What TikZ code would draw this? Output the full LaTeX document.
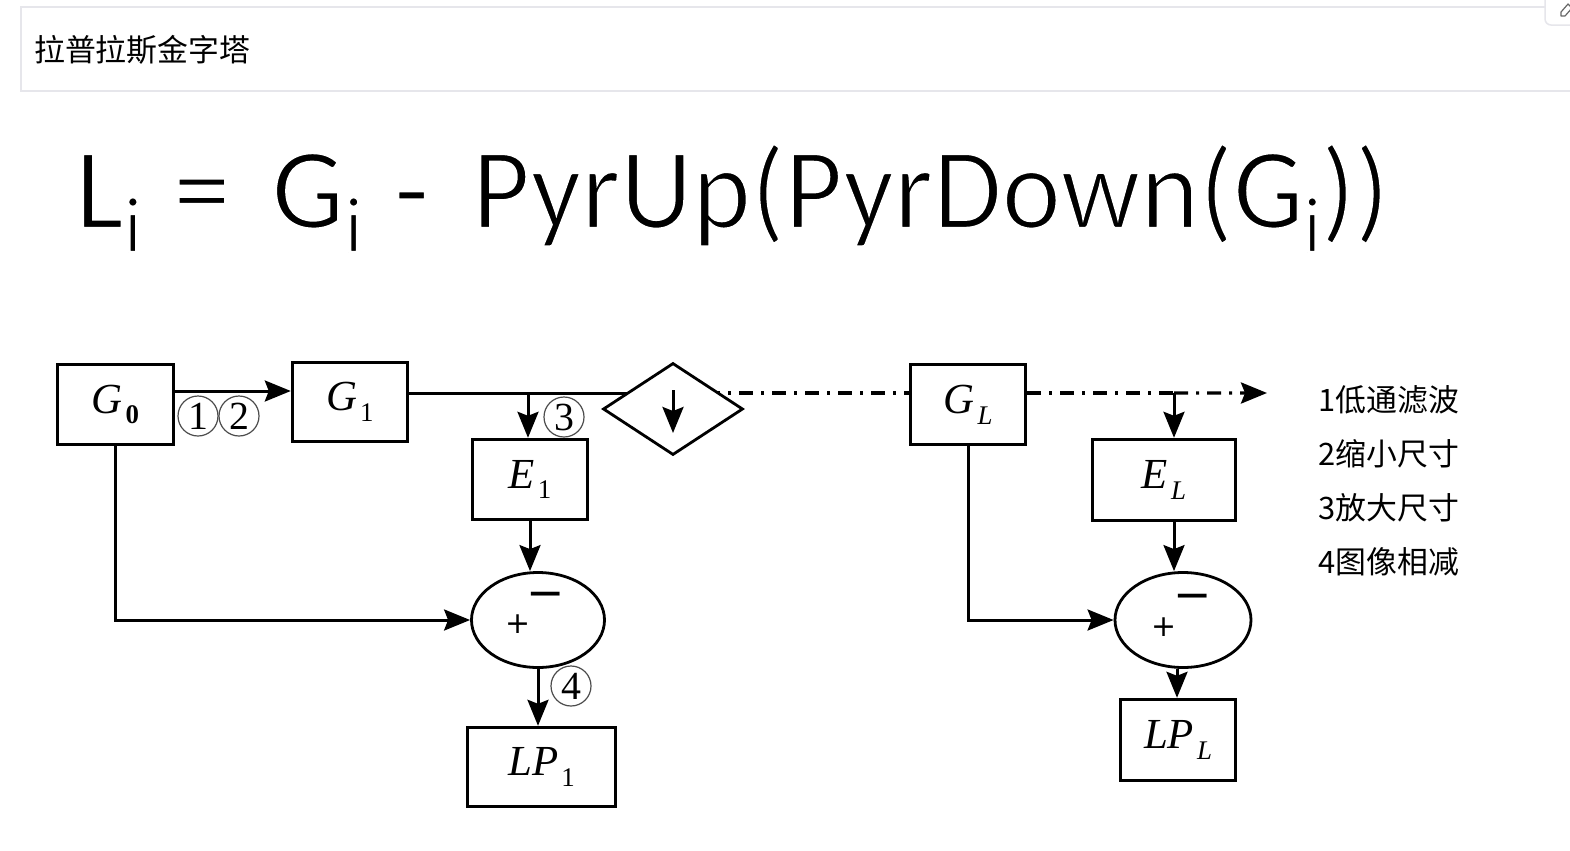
\documentclass[tikz,border=0pt]{standalone}
\usepackage{fontspec}
\setmainfont{Liberation Serif}
\newfontfamily\cjk{Noto Sans CJK SC}
\newfontfamily\formfont{Carlito}
\newfontfamily\dvfont{DejaVu Sans}
\usetikzlibrary{arrows.meta,shapes.geometric,calc}
\definecolor{hdr}{RGB}{230,230,235}
\newcommand{\lbl}[2]{\textit{#1}\kern3bp\raisebox{-0.25em}{\fontsize{27}{27}\selectfont #2}}
\newcommand{\fsub}{\raisebox{-24bp}{\fontsize{80}{80}\selectfont i}}
\newcommand{\thinstroke}[1]{\special{pdf:literal direct 2 Tr 1 1 1 RG 2.4 w}#1\special{pdf:literal direct 0 Tr 0 0 0 RG 1 w}}
\tikzset{
  blk/.style={draw, line width=3.4bp, inner sep=0pt, font=\fontsize{43}{46}\selectfont},
  tip/.style={-{Stealth[length=26bp,width=21bp,inset=4bp]}},
  arr/.style={line width=3bp, tip},
  ln/.style={line width=3bp},
  dashdot/.style={line width=3.4bp, dash pattern=on 14bp off 8bp on 3bp off 8bp},
  circnum/.style={circle, draw=black!70, line width=1.2bp, minimum size=40bp, inner sep=0pt, font=\fontsize{40}{40}\selectfont},
  sumnode/.style={ellipse, draw, line width=2.8bp, inner sep=0pt},
  legend/.style={anchor=west, font=\cjk\fontsize{31}{33}\selectfont, inner sep=0pt},
  pm/.style={font=\dvfont\fontsize{30}{30}\selectfont, inner sep=0pt},
  mn/.style={font=\dvfont\fontsize{46}{46}\selectfont, inner sep=0pt}
}
\begin{document}
\begin{tikzpicture}[x=1bp, y=-1bp]
\useasboundingbox (0,0) rectangle (1570,850);
\fill[white] (0,0) rectangle (1570,850);
% header
\draw[hdr, line width=1.5bp, fill=white] (21,7) rectangle (1585,91);
\draw[hdr, line width=1.5bp, fill=white, rounded corners=6bp] (1545,-12) rectangle (1585,25);
\draw[black!60, line width=1.2bp, line join=round] (1561,16) -- (1561,12) -- (1568,4) -- (1572,8) -- (1565,16) -- cycle;
\node[anchor=west, font=\cjk\fontsize{31}{33}\selectfont, inner sep=0pt] (title) at (34,50) {拉普拉斯金字塔};
% formula
\node[anchor=base west, inner sep=0pt, font=\formfont\fontsize{116}{120}\selectfont] (formula) at (75,228)
  {\thinstroke{L\fsub\hspace{31bp}=\hspace{41bp}G\fsub\hspace{31bp}-\hspace{43bp}\scalebox{0.968}[1]{PyrUp(PyrDown(G\fsub))}}};
% boxes
\node[blk, minimum width=116bp, minimum height=80bp] (G0) at (115.5,404.5) {\lbl{G}{\textbf{0}}};
\node[blk, minimum width=115bp, minimum height=79bp] (G1) at (350,402) {\lbl{G}{1}};
\node[blk, minimum width=115bp, minimum height=80bp] (E1) at (530,479.5) {\lbl{E}{1}};
\node[blk, minimum width=148bp, minimum height=79bp] (LP1) at (541.5,767) {\lbl{LP}{1}};
\node[blk, minimum width=115bp, minimum height=80bp] (GL) at (968,404.5) {\lbl{G}{\textit{L}}};
\node[blk, minimum width=143bp, minimum height=81bp] (EL) at (1164,480) {\lbl{E}{\textit{L}}};
\node[blk, minimum width=115bp, minimum height=81bp] (LPL) at (1178,740) {\lbl{LP}{\textit{L}}};
\node[sumnode, minimum width=133bp, minimum height=95bp] (S1) at (538,620) {};
\node[sumnode, minimum width=136bp, minimum height=95bp] (S2) at (1183,620) {};
\node[pm] (p1) at (518,624) {+};
\node[mn] (m1) at (546,600) {−};
\node[pm] (p2) at (1164,627) {+};
\node[mn] (m2) at (1193,602) {−};
% coordinates
\coordinate (dc) at (673,409);
\coordinate (t1) at ([yshift=9bp]G1.east);
\coordinate (b2) at ([xshift=10bp]EL.north);
\coordinate (endA) at (1267,393);
% connectors
\draw[arr] ([yshift=13.5bp]G0.east) -- ([yshift=13.5bp]G0.east -| G1.west);
\draw[ln] (t1) -- (t1 -| dc);
\draw[dashdot] (t1 -| dc) -- (t1 -| GL.west);
\draw[dashdot] (t1 -| GL.east) -- (t1 -| b2);
\draw[dashdot, tip] (t1 -| b2) -- (endA);
\draw[arr] ([xshift=-2bp]t1 -| E1.north) -- ([xshift=-2bp]E1.north);
\draw[arr] (E1.south) -- (E1.south |- S1.north);
\draw[arr] (G0.south) |- (S1.west);
\draw[arr] (S1.south) -- (S1.south |- LP1.north);
\draw[arr] (t1 -| b2) -- (b2);
\draw[arr] (b2 |- EL.south) -- (b2 |- S2.north);
\draw[arr] (GL.south) |- (S2.west);
\draw[arr] ([xshift=-6bp]S2.south) -- ([xshift=-6bp]S2.south |- LPL.north);
% diamond
\node[diamond, draw, fill=white, line width=2.8bp, minimum width=140bp, minimum height=92bp, inner sep=0pt] (dn) at (dc) {};
\draw[arr] ([yshift=19bp]dn.center) -- ([yshift=-24bp]dn.center);
% circled numbers
\node[circnum] (c1) at (198,416) {1};
\node[circnum] (c2) at (239,416) {2};
\node[circnum] (c3) at (564,417) {3};
\node[circnum] (c4) at (571,686) {4};
% legend
\node[legend] (l1) at (1318,400) {1低通滤波};
\node[legend] (l2) at (1318,454) {2缩小尺寸};
\node[legend] (l3) at (1318,508) {3放大尺寸};
\node[legend] (l4) at (1318,562) {4图像相减};
\end{tikzpicture}
\end{document}
